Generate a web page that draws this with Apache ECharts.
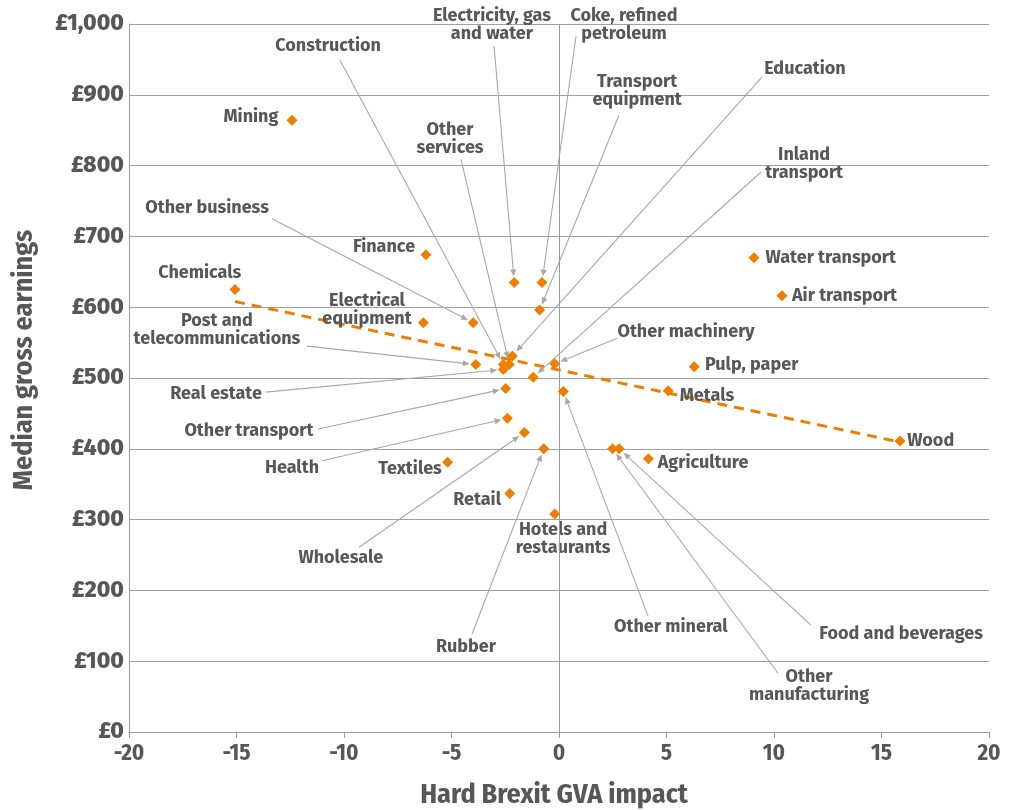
<!DOCTYPE html>
<html>
<head>
<meta charset="utf-8">
<script src="https://cdn.jsdelivr.net/npm/echarts@6/dist/echarts.min.js"></script>
<style>
html,body{margin:0;padding:0;background:#fff;}
#chart{width:1015px;height:810px;}
</style>
</head>
<body>
<div id="chart"></div>
<script>
// ---------------- DATA ----------------
const sectors = [
  'Mining','Construction','Electricity, gas and water','Coke, refined petroleum','Transport equipment',
  'Education','Other services','Inland transport','Other business','Finance','Chemicals',
  'Water transport','Air transport','Electrical equipment','Post and telecommunications','Other machinery',
  'Pulp, paper','Real estate','Metals','Other transport','Wood','Health','Textiles','Agriculture',
  'Retail','Wholesale','Hotels and restaurants','Other mineral','Rubber','Food and beverages','Other manufacturing'
];
const gvaImpact = [
  -12.42, -2.59, -2.08, -0.79, -0.90,
  -2.17, -2.31, -1.20, -3.99, -6.19, -15.07,
  9.07, 10.37, -6.31, -3.87, -0.20,
  6.29, -2.59, 5.08, -2.48, 15.86, -2.40, -5.18, 4.16,
  -2.29, -1.61, -0.20, 0.20, -0.71, 2.80, 2.49
];
const medianEarnings = [
  864, 519, 635, 635, 596,
  531, 519, 501, 578, 674, 625,
  670, 616, 578, 519, 520,
  516, 512, 482, 485, 411, 443, 381, 386,
  337, 423, 308, 481, 400, 400, 400
];
const trendGva = [-15.07, 15.63];
const trendEarnings = [608, 411];
const xTickLabels = ['-20','-15','-10','-5','0','5','10','15','20'];
const yTickLabels = ['£0','£100','£200','£300','£400','£500','£600','£700','£800','£900','£1,000'];

// ---------------- LAYOUT (annotation placement, data coords) ----------------
const labelText = {
  'Electricity, gas and water': 'Electricity, gas\nand water',
  'Coke, refined petroleum': 'Coke, refined\npetroleum',
  'Transport equipment': 'Transport\nequipment',
  'Other services': 'Other\nservices',
  'Inland transport': 'Inland\ntransport',
  'Electrical equipment': 'Electrical\nequipment',
  'Post and telecommunications': 'Post and\ntelecommunications',
  'Hotels and restaurants': 'Hotels and\nrestaurants',
  'Other manufacturing': 'Other\nmanufacturing'
};
const labelAnchor = {
  'Mining':[-14.33,869], 'Construction':[-10.74,969], 'Electricity, gas and water':[-3.12,999],
  'Coke, refined petroleum':[3.02,998], 'Transport equipment':[3.63,905], 'Education':[11.44,936],
  'Other services':[-5.07,838], 'Inland transport':[11.40,802], 'Other business':[-16.37,740],
  'Finance':[-8.14,685], 'Chemicals':[-16.71,648], 'Water transport':[12.64,670],
  'Air transport':[13.28,616], 'Electrical equipment':[-8.93,596], 'Post and telecommunications':[-15.91,568],
  'Other machinery':[5.91,565], 'Pulp, paper':[8.96,518], 'Real estate':[-15.95,477],
  'Metals':[6.88,475], 'Other transport':[-14.42,425], 'Wood':[17.29,411], 'Health':[-12.42,373],
  'Textiles':[-6.93,372], 'Agriculture':[6.70,380], 'Retail':[-3.81,328], 'Wholesale':[-10.15,246],
  'Hotels and restaurants':[0.19,272], 'Other mineral':[5.20,149], 'Rubber':[-4.33,120],
  'Food and beverages':[15.91,138], 'Other manufacturing':[11.63,65]
};
const arrowFrom = {
  'Construction':[-10.19,949], 'Electricity, gas and water':[-3.02,969], 'Coke, refined petroleum':[0.79,983],
  'Transport equipment':[2.79,871], 'Education':[9.44,925], 'Other services':[-4.56,809],
  'Inland transport':[9.40,791], 'Other business':[-13.35,725], 'Post and telecommunications':[-11.72,545],
  'Other machinery':[2.70,556], 'Real estate':[-13.63,480], 'Other transport':[-11.21,428],
  'Health':[-11.02,383], 'Wholesale':[-9.30,261], 'Rubber':[-4.05,138], 'Other mineral':[4.14,164],
  'Food and beverages':[11.72,151], 'Other manufacturing':[10.19,83]
};

// ---------------- BUILD ----------------
const ORANGE = '#EE7D00';
const TEXT = '#575757';
const FONT = "'Fira Sans','Open Sans','Noto Sans',sans-serif";
const CONDENSED = "'Fira Sans Condensed','Liberation Sans Narrow','Roboto',sans-serif";

const points = sectors.map((s, i) => ({ name: s, value: [gvaImpact[i], medianEarnings[i]] }));
const annotations = sectors.map((s, i) => {
  const a = labelAnchor[s], f = arrowFrom[s];
  return { name: s, value: [a[0], a[1], f ? f[0] : NaN, f ? f[1] : NaN, gvaImpact[i], medianEarnings[i]] };
});

const chart = echarts.init(document.getElementById('chart'), null, { renderer: 'canvas' });

chart.setOption({
  animation: false,
  backgroundColor: '#ffffff',
  grid: { left: 129, right: 26, top: 24, bottom: 78, containLabel: false, outerBoundsMode: 'none' },
  xAxis: {
    type: 'value', min: -20, max: 20, interval: 5,
    name: 'Hard Brexit GVA impact', nameLocation: 'middle', nameGap: 49,
    nameTextStyle: { fontFamily: CONDENSED, fontWeight: 'bold', fontSize: 28, color: TEXT, padding: [0, 10, 0, 0] },
    axisLine: { show: true, lineStyle: { color: '#9a9a9a', width: 1 } },
    axisTick: { show: true, length: 6, lineStyle: { color: '#9a9a9a' } },
    axisLabel: { fontFamily: CONDENSED, fontWeight: 'bold', fontSize: 23, color: TEXT, margin: 10,
      formatter: v => xTickLabels[Math.round((v + 20) / 5)] },
    splitLine: { show: false }
  },
  yAxis: {
    type: 'value', min: 0, max: 1000, interval: 100,
    name: 'Median gross earnings', nameLocation: 'middle', nameGap: 91, nameRotate: 90,
    nameTextStyle: { fontFamily: CONDENSED, fontWeight: 'bold', fontSize: 28, color: TEXT, padding: [0, 0, 0, 36] },
    axisLine: { show: true, onZero: false, lineStyle: { color: '#9a9a9a', width: 1 } },
    axisTick: { show: false },
    axisLabel: { fontFamily: FONT, fontWeight: 800, fontSize: 23, color: TEXT, margin: 5,
      formatter: v => yTickLabels[Math.round(v / 100)] },
    splitLine: { show: true, lineStyle: { color: '#a0a0a0', width: 1 } }
  },
  series: [
    {
      type: 'line', name: 'trend', z: 3,
      data: trendGva.map((x, i) => [x, trendEarnings[i]]),
      symbol: 'none', silent: true,
      lineStyle: { color: ORANGE, width: 3, type: [10, 7] },
      markLine: {
        silent: true, symbol: 'none', label: { show: false },
        lineStyle: { color: '#9a9a9a', width: 1, type: 'solid' },
        data: [{ xAxis: 0 }]
      }
    },
    {
      type: 'custom', name: 'annotations', z: 4,
      coordinateSystem: 'cartesian2d', clip: false,
      encode: { x: 0, y: 1 },
      data: annotations,
      renderItem: function (params, api) {
        const t = api.coord([api.value(0), api.value(1)]);
        const children = [];
        const fx = api.value(2);
        if (!isNaN(fx)) {
          const s = api.coord([fx, api.value(3)]);
          const p = api.coord([api.value(4), api.value(5)]);
          const dx = p[0] - s[0], dy = p[1] - s[1];
          const len = Math.sqrt(dx * dx + dy * dy);
          const ux = dx / len, uy = dy / len;
          const tip = [p[0] - ux * 6, p[1] - uy * 6];
          const base = [tip[0] - ux * 7, tip[1] - uy * 7];
          const nx = -uy, ny = ux;
          children.push({
            type: 'line', silent: true,
            shape: { x1: s[0], y1: s[1], x2: base[0], y2: base[1] },
            style: { stroke: '#a8a8a8', lineWidth: 1.1 }
          });
          children.push({
            type: 'polygon', silent: true,
            shape: { points: [tip, [base[0] + nx * 3, base[1] + ny * 3], [base[0] - nx * 3, base[1] - ny * 3]] },
            style: { fill: '#a8a8a8' }
          });
        }
        const name = sectors[params.dataIndex];
        children.push({
          type: 'text', silent: true, z2: 10,
          x: t[0], y: t[1],
          style: {
            text: labelText[name] || name,
            align: 'center', verticalAlign: 'middle',
            fontFamily: FONT, fontWeight: 'bold', fontSize: 18, lineHeight: 18,
            fill: TEXT
          }
        });
        return { type: 'group', children: children };
      }
    },
    {
      type: 'scatter', name: 'sectors', z: 5,
      data: points,
      symbol: 'diamond', symbolSize: 11,
      itemStyle: { color: ORANGE, opacity: 1 },
      label: { show: false }
    }
  ]
});
</script>
</body>
</html>
